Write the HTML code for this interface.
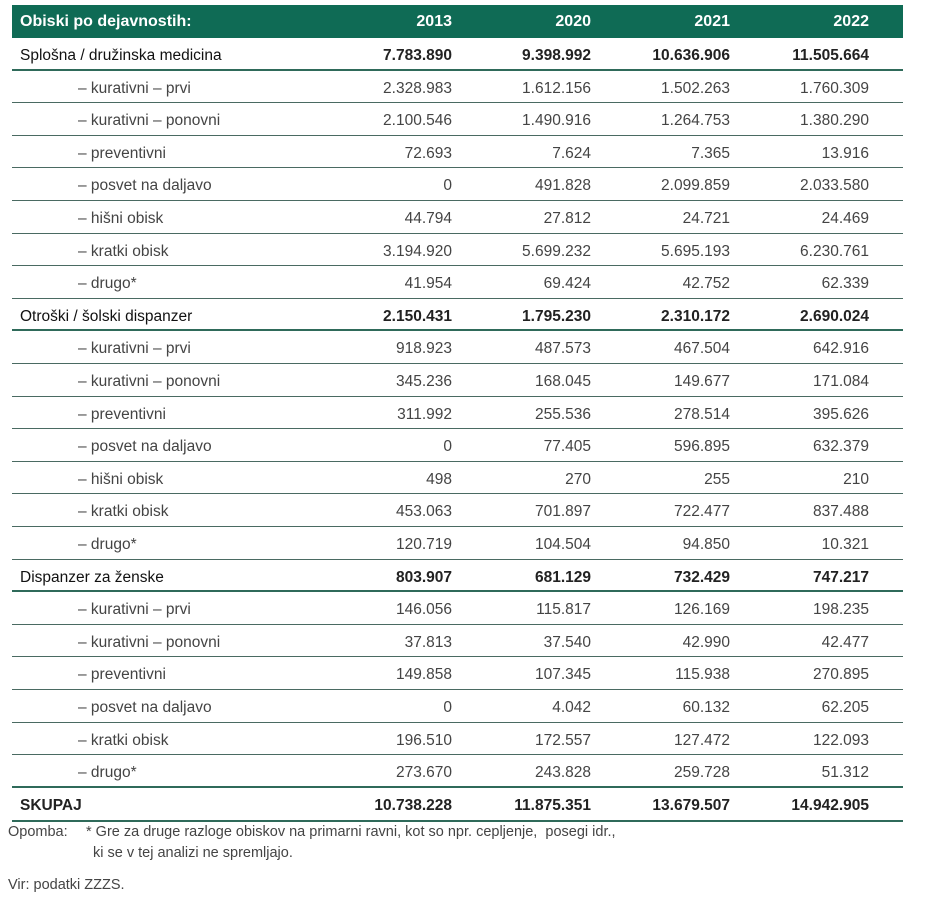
<!DOCTYPE html>
<html><head><meta charset="utf-8"><style>
body{margin:0;background:#fff;width:940px;height:902px;position:relative;font-family:"Liberation Sans",sans-serif;overflow:hidden}
.hd{position:absolute;left:12px;top:5px;width:891px;height:33px;background:#0f6b55;color:#fff;font-weight:bold;font-size:16px}
.r{position:absolute;left:12px;width:891px;height:32.6px;border-bottom:1.5px solid #4a6a62;box-sizing:border-box;font-size:15.5px;color:#444}
.r.b{color:#111;font-weight:normal;border-bottom:2px solid #2f6a5a}
.r.b .n{font-weight:bold;color:#222}
.r span{position:absolute;top:9px;white-space:nowrap}
.l{left:8px}.r:not(.b) .l{left:66px}
.c1{right:451px}.c2{right:312px}.c3{right:173px}.c4{right:34px}
.hd span{position:absolute;top:8px}
.note{position:absolute;font-size:14.5px;color:#444}
</style></head><body>
<div class="hd"><span style="left:8px">Obiski po dejavnostih:</span><span class="c1" style="right:451px">2013</span><span style="right:312px">2020</span><span style="right:173px">2021</span><span style="right:34px">2022</span></div>
<div class="r b" style="top:38px"><span class="l">Splošna / družinska medicina</span><span class="n c1">7.783.890</span><span class="n c2">9.398.992</span><span class="n c3">10.636.906</span><span class="n c4">11.505.664</span></div>
<div class="r" style="top:70.6px"><span class="l">– kurativni – prvi</span><span class="c1">2.328.983</span><span class="c2">1.612.156</span><span class="c3">1.502.263</span><span class="c4">1.760.309</span></div>
<div class="r" style="top:103.2px"><span class="l">– kurativni – ponovni</span><span class="c1">2.100.546</span><span class="c2">1.490.916</span><span class="c3">1.264.753</span><span class="c4">1.380.290</span></div>
<div class="r" style="top:135.8px"><span class="l">– preventivni</span><span class="c1">72.693</span><span class="c2">7.624</span><span class="c3">7.365</span><span class="c4">13.916</span></div>
<div class="r" style="top:168.4px"><span class="l">– posvet na daljavo</span><span class="c1">0</span><span class="c2">491.828</span><span class="c3">2.099.859</span><span class="c4">2.033.580</span></div>
<div class="r" style="top:201px"><span class="l">– hišni obisk</span><span class="c1">44.794</span><span class="c2">27.812</span><span class="c3">24.721</span><span class="c4">24.469</span></div>
<div class="r" style="top:233.6px"><span class="l">– kratki obisk</span><span class="c1">3.194.920</span><span class="c2">5.699.232</span><span class="c3">5.695.193</span><span class="c4">6.230.761</span></div>
<div class="r" style="top:266.2px"><span class="l">– drugo*</span><span class="c1">41.954</span><span class="c2">69.424</span><span class="c3">42.752</span><span class="c4">62.339</span></div>
<div class="r b" style="top:298.8px"><span class="l">Otroški / šolski dispanzer</span><span class="n c1">2.150.431</span><span class="n c2">1.795.230</span><span class="n c3">2.310.172</span><span class="n c4">2.690.024</span></div>
<div class="r" style="top:331.4px"><span class="l">– kurativni – prvi</span><span class="c1">918.923</span><span class="c2">487.573</span><span class="c3">467.504</span><span class="c4">642.916</span></div>
<div class="r" style="top:364px"><span class="l">– kurativni – ponovni</span><span class="c1">345.236</span><span class="c2">168.045</span><span class="c3">149.677</span><span class="c4">171.084</span></div>
<div class="r" style="top:396.6px"><span class="l">– preventivni</span><span class="c1">311.992</span><span class="c2">255.536</span><span class="c3">278.514</span><span class="c4">395.626</span></div>
<div class="r" style="top:429.2px"><span class="l">– posvet na daljavo</span><span class="c1">0</span><span class="c2">77.405</span><span class="c3">596.895</span><span class="c4">632.379</span></div>
<div class="r" style="top:461.8px"><span class="l">– hišni obisk</span><span class="c1">498</span><span class="c2">270</span><span class="c3">255</span><span class="c4">210</span></div>
<div class="r" style="top:494.4px"><span class="l">– kratki obisk</span><span class="c1">453.063</span><span class="c2">701.897</span><span class="c3">722.477</span><span class="c4">837.488</span></div>
<div class="r" style="top:527px"><span class="l">– drugo*</span><span class="c1">120.719</span><span class="c2">104.504</span><span class="c3">94.850</span><span class="c4">10.321</span></div>
<div class="r b" style="top:559.6px"><span class="l">Dispanzer za ženske</span><span class="n c1">803.907</span><span class="n c2">681.129</span><span class="n c3">732.429</span><span class="n c4">747.217</span></div>
<div class="r" style="top:592.2px"><span class="l">– kurativni – prvi</span><span class="c1">146.056</span><span class="c2">115.817</span><span class="c3">126.169</span><span class="c4">198.235</span></div>
<div class="r" style="top:624.8px"><span class="l">– kurativni – ponovni</span><span class="c1">37.813</span><span class="c2">37.540</span><span class="c3">42.990</span><span class="c4">42.477</span></div>
<div class="r" style="top:657.4px"><span class="l">– preventivni</span><span class="c1">149.858</span><span class="c2">107.345</span><span class="c3">115.938</span><span class="c4">270.895</span></div>
<div class="r" style="top:690px"><span class="l">– posvet na daljavo</span><span class="c1">0</span><span class="c2">4.042</span><span class="c3">60.132</span><span class="c4">62.205</span></div>
<div class="r" style="top:722.6px"><span class="l">– kratki obisk</span><span class="c1">196.510</span><span class="c2">172.557</span><span class="c3">127.472</span><span class="c4">122.093</span></div>
<div class="r" style="top:755.2px;border-bottom:2px solid #2f6a5a"><span class="l">– drugo*</span><span class="c1">273.670</span><span class="c2">243.828</span><span class="c3">259.728</span><span class="c4">51.312</span></div>
<div class="r b" style="top:787.8px;height:34px;border-bottom:2.5px solid #2f6a5a"><span class="l" style="font-weight:bold;color:#222">SKUPAJ</span><span class="n c1">10.738.228</span><span class="n c2">11.875.351</span><span class="n c3">13.679.507</span><span class="n c4">14.942.905</span></div>
<div class="note" style="left:8px;top:824px">Opomba:</div>
<div class="note" style="left:86px;top:824px">* Gre za druge razloge obiskov na primarni ravni, kot so npr. cepljenje,&nbsp; posegi idr.,</div>
<div class="note" style="left:93px;top:845px">ki se v tej analizi ne spremljajo.</div>
<div class="note" style="left:8px;top:877px">Vir: podatki ZZZS.</div>
</body></html>
